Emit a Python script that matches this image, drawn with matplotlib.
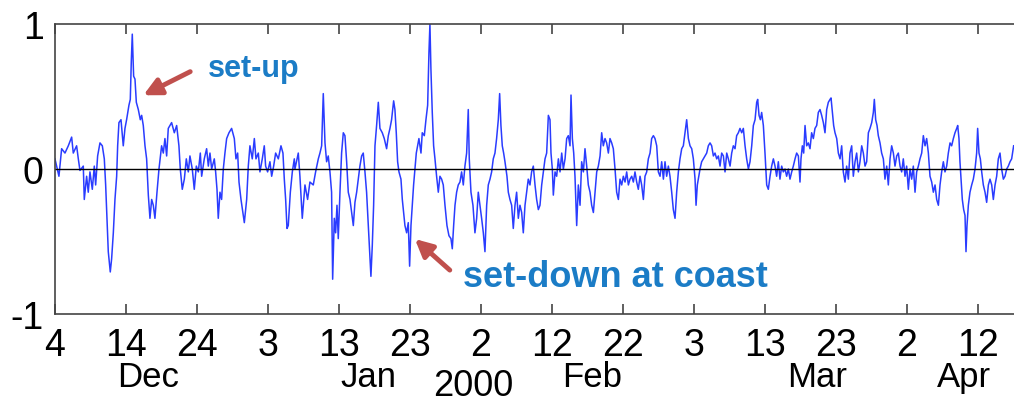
import numpy as np
import matplotlib
matplotlib.use("Agg")
import matplotlib.pyplot as plt

# sea level anomaly (m), days since 4 Dec 1999
days_1 = [0.00, 0.56, 0.94, 1.41, 1.88, 2.35, 2.58, 3.05, 3.29, 3.52, 3.99, 4.13, 4.46, 4.69, 4.93,
          5.26, 5.54, 5.73, 6.01, 6.34, 6.67, 6.95, 7.14, 7.32, 7.51, 7.79, 7.98, 8.22, 8.45, 8.69,
          8.83, 9.01, 9.30, 9.62, 9.86, 10.09, 10.42, 10.61, 10.75, 10.89, 11.08, 11.27, 11.46, 11.74,
          12.02, 12.21, 12.44, 12.68, 12.91, 13.15, 13.38, 13.62, 13.85, 14.08, 14.37, 14.65, 15.02,
          15.26, 15.49, 15.73, 15.96, 16.43, 16.81, 17.14, 17.46, 17.65, 17.93, 18.22, 18.50, 18.78,
          19.01, 19.34, 19.62, 19.91, 20.19, 20.47, 20.66, 21.03, 21.36, 21.60, 21.83, 22.07, 22.44,
          22.63, 22.82, 23.00, 23.24, 23.47, 23.71, 23.94, 24.18, 24.51, 24.88, 25.26, 25.49, 25.73,
          25.92, 26.20, 26.67, 27.00, 27.23, 27.46, 27.79, 28.08, 28.31, 28.64, 28.87, 29.20, 29.48,
          29.67, 29.95, 30.28, 30.52, 30.80, 31.08, 31.46, 31.83, 32.11, 32.30, 32.49, 32.68, 32.86,
          33.15, 33.43, 33.71]
level_1 = [0.07, -0.05, 0.14, 0.11, 0.16, 0.22, 0.11, 0.16, 0.07, -0.01, 0.02, -0.21, -0.05, -0.16, -0.02,
           -0.14, 0.02, -0.11, 0.09, 0.18, 0.16, 0.07, -0.11, -0.34, -0.57, -0.71, -0.62, -0.44, -0.21, -0.05,
           0.16, 0.32, 0.34, 0.16, 0.28, 0.34, 0.44, 0.48, 0.74, 0.93, 0.64, 0.62, 0.46, 0.41,
           0.34, 0.37, 0.30, 0.16, 0.07, -0.18, -0.34, -0.21, -0.25, -0.34, -0.16, 0.00, 0.16,
           0.11, 0.21, 0.09, 0.28, 0.32, 0.25, 0.30, 0.16, 0.00, -0.14, -0.07, 0.07, -0.02,
           0.09, 0.00, -0.14, 0.02, -0.02, 0.11, -0.05, 0.07, 0.14, 0.02, 0.11, 0.00, 0.07,
           -0.02, -0.14, -0.34, -0.16, -0.21, 0.00, 0.11, 0.21, 0.25, 0.28, 0.21, 0.07, 0.11,
           -0.09, -0.21, -0.37, -0.21, 0.02, 0.16, 0.07, 0.21, 0.07, 0.11, -0.02, 0.07, 0.16,
           0.02, -0.02, 0.05, -0.05, 0.02, 0.11, 0.07, 0.16, 0.11, -0.07, -0.21, -0.41, -0.39,
           -0.16, -0.02, 0.07]

days_2 = [33.80, 34.27, 34.50, 34.83, 35.21, 35.58, 35.91, 36.38, 36.71, 37.09, 37.32, 37.56, 37.79,
          38.03, 38.26, 38.49, 38.73, 38.96, 39.11, 39.34, 39.53, 39.72, 39.90, 40.14, 40.37, 40.61,
          40.84, 41.08, 41.31, 41.55, 41.78, 42.02, 42.25, 42.49, 42.72, 42.95, 43.19, 43.42, 43.66,
          43.89, 44.13, 44.36, 44.50, 44.69, 44.88, 45.07, 45.30, 45.54, 45.77, 46.10, 46.38, 46.71,
          46.95, 47.18, 47.41, 47.70, 47.88, 48.07, 48.26, 48.45, 48.73, 48.92, 49.11, 49.29, 49.53,
          49.76, 49.95, 50.14, 50.33, 50.51, 50.70, 50.89, 51.08, 51.26, 51.55, 51.73, 52.02, 52.25,
          52.49, 52.67, 52.81, 52.95, 53.14, 53.33, 53.52, 53.75, 53.99, 54.22, 54.46, 54.69, 54.93,
          55.21, 55.49, 55.77, 55.96, 56.15, 56.34, 56.57, 56.80, 57.04, 57.27, 57.51, 57.74, 57.98,
          58.21, 58.35, 58.59, 58.87, 59.15, 59.39, 59.62, 59.86, 60.09, 60.33, 60.56, 60.80, 61.03,
          61.27, 61.50, 61.73, 61.97, 62.20, 62.44, 62.63, 62.81, 63.00, 63.19, 63.38, 63.66, 63.85,
          64.08, 64.32, 64.55, 64.79, 65.02, 65.26, 65.49, 65.73, 65.96, 66.20, 66.43, 66.66, 66.90,
          67.13, 67.37]
level_2 = [0.00, 0.11, -0.05, -0.34, -0.11, -0.21, -0.09, -0.11, -0.02, 0.07, 0.11, 0.16, 0.52,
           0.18, 0.05, 0.09, -0.02, -0.16, -0.76, -0.34, -0.44, -0.25, -0.48, -0.16, 0.11, 0.25,
           0.23, 0.05, -0.16, -0.21, -0.30, -0.39, -0.23, -0.16, -0.07, 0.02, 0.09, 0.11, -0.02,
           -0.16, -0.39, -0.62, -0.74, -0.53, -0.25, 0.16, 0.30, 0.46, 0.28, 0.25, 0.21, 0.14,
           0.23, 0.28, 0.34, 0.47, 0.41, 0.25, 0.05, -0.02, -0.07, -0.21, -0.30, -0.39, -0.44,
           -0.37, -0.67, -0.39, -0.25, -0.11, 0.00, 0.11, 0.16, 0.21, 0.11, 0.25, 0.23, 0.34,
           0.44, 0.80, 1.00, 0.69, 0.39, 0.16, 0.07, -0.05, -0.16, -0.05, -0.07, -0.11, -0.25,
           -0.39, -0.46, -0.48, -0.55, -0.39, -0.25, -0.16, -0.11, -0.09, -0.02, -0.11, 0.02, 0.11,
           0.41, 0.07, -0.16, -0.25, -0.44, -0.34, -0.16, -0.25, -0.34, -0.44, -0.57, -0.25, -0.11,
           -0.07, -0.02, 0.07, 0.11, 0.21, 0.34, 0.52, 0.30, 0.16, 0.11, 0.05, -0.05, -0.16,
           -0.21, -0.25, -0.41, -0.25, -0.16, -0.34, -0.25, -0.30, -0.44, -0.25, -0.16, -0.07, -0.11,
           -0.02, 0.02]

days_3 = [67.61, 67.84, 68.08, 68.31, 68.55, 68.78, 69.02, 69.25, 69.49, 69.72, 69.86, 70.05, 70.19,
          70.43, 70.66, 70.90, 71.13, 71.37, 71.60, 71.84, 72.07, 72.30, 72.54, 72.68, 72.87, 73.06,
          73.24, 73.48, 73.71, 73.95, 74.18, 74.42, 74.65, 74.89, 75.12, 75.36, 75.59, 75.83, 76.06,
          76.30, 76.53, 76.77, 77.00, 77.23, 77.47, 77.70, 77.94, 78.17, 78.41, 78.64, 78.88, 79.11,
          79.35, 79.58, 79.82, 80.05, 80.29, 80.52, 80.76, 80.99, 81.23, 81.46, 81.69, 81.93, 82.16,
          82.40, 82.63, 82.87, 83.10, 83.34, 83.57, 83.81, 84.04, 84.28, 84.51, 84.75, 84.98, 85.22,
          85.45, 85.69, 85.92, 86.15, 86.39, 86.62, 86.86, 87.09, 87.33, 87.56, 87.80, 88.03, 88.27,
          88.50, 88.74, 88.97, 89.21, 89.44, 89.68, 89.91, 90.15, 90.29, 90.47, 90.61, 90.85, 91.08,
          91.32, 91.55, 91.79, 92.02, 92.26, 92.49, 92.73, 92.96, 93.20, 93.43, 93.67, 93.90, 94.14,
          94.37, 94.61, 94.84, 95.08, 95.31, 95.54, 95.78, 96.01, 96.25, 96.48, 96.72, 96.95, 97.19,
          97.42, 97.66, 97.89, 98.13, 98.36, 98.60, 98.83, 98.97, 99.16, 99.35, 99.53, 99.77, 100.00,
          100.24, 100.47, 100.71, 100.94, 101.18]
level_3 = [-0.11, -0.21, -0.28, -0.25, -0.11, -0.02, 0.07, 0.11, 0.37, 0.34, 0.11, 0.00, -0.18,
           -0.02, -0.05, 0.07, -0.02, 0.11, 0.00, 0.07, 0.21, 0.23, 0.16, 0.51, 0.21, 0.11,
           -0.05, -0.39, -0.11, -0.25, 0.05, -0.02, 0.14, 0.02, -0.11, -0.16, -0.25, -0.30, -0.16,
           -0.02, 0.02, 0.09, 0.25, 0.16, 0.21, 0.18, 0.11, 0.21, 0.18, 0.14, 0.00, -0.16,
           -0.21, -0.07, -0.11, -0.05, -0.09, -0.02, -0.11, -0.07, -0.05, -0.09, -0.02, -0.09, -0.14,
           -0.05, -0.11, -0.21, -0.05, -0.02, 0.07, 0.11, 0.21, 0.23, 0.21, 0.16, -0.02, -0.05,
           0.05, -0.07, 0.05, -0.05, 0.02, -0.05, -0.16, -0.28, -0.34, -0.16, -0.02, 0.07, 0.14,
           0.16, 0.25, 0.34, 0.21, 0.16, 0.14, 0.07, -0.07, -0.25, -0.11, -0.07, 0.00, 0.05,
           0.07, 0.09, 0.11, 0.16, 0.18, 0.16, 0.09, 0.11, 0.07, 0.09, 0.02, 0.11, 0.09,
           -0.02, 0.11, 0.07, 0.02, 0.11, 0.16, 0.14, 0.23, 0.25, 0.28, 0.25, 0.28, 0.16,
           0.07, 0.00, 0.05, 0.16, 0.30, 0.34, 0.46, 0.48, 0.37, 0.34, 0.39, 0.30, 0.11,
           -0.11, -0.14, -0.05, 0.02, 0.07]

days_4 = [101.41, 101.64, 101.88, 102.11, 102.35, 102.58, 102.82, 103.05, 103.29, 103.52, 103.76,
          103.99, 104.23, 104.46, 104.70, 104.93, 105.07, 105.26, 105.45, 105.64, 105.87, 106.10,
          106.34, 106.57, 106.81, 107.04, 107.28, 107.51, 107.75, 107.98, 108.22, 108.45, 108.69,
          108.92, 109.16, 109.30, 109.49, 109.67, 109.86, 110.10, 110.33, 110.57, 110.80, 111.03,
          111.27, 111.50, 111.74, 111.97, 112.21, 112.44, 112.68, 112.91, 113.15, 113.38, 113.62,
          113.85, 114.09, 114.32, 114.56, 114.79, 115.03, 115.26, 115.40, 115.59, 115.78, 115.96,
          116.20, 116.43, 116.67, 116.90, 117.14, 117.37, 117.61, 117.84, 118.08, 118.31, 118.55,
          118.78, 119.02, 119.25, 119.48, 119.72, 119.95, 120.19, 120.42, 120.66, 120.89, 121.13,
          121.36, 121.60, 121.83, 122.07, 122.30, 122.54, 122.77, 123.01, 123.24, 123.48, 123.71,
          123.95, 124.18, 124.42, 124.65, 124.88, 125.12, 125.35, 125.59, 125.82, 126.06, 126.29,
          126.53, 126.76, 127.00, 127.14, 127.32, 127.46, 127.61, 127.79, 127.98, 128.17, 128.31,
          128.45, 128.64, 128.87, 129.11, 129.34, 129.58, 129.81, 129.95, 130.14, 130.33, 130.52,
          130.75, 130.99, 131.22, 131.46, 131.69, 131.93, 132.16, 132.40, 132.63, 132.86, 133.10,
          133.33, 133.57, 133.80, 134.04, 134.27, 134.51, 134.74, 135.02]
level_4 = [0.02, -0.05, 0.05, -0.07, 0.02, -0.02, 0.00, -0.05, 0.00, -0.07, -0.02,
           0.02, 0.07, 0.11, 0.09, -0.09, 0.07, 0.16, 0.11, 0.30, 0.16, 0.18,
           0.14, 0.25, 0.21, 0.28, 0.30, 0.39, 0.41, 0.37, 0.32, 0.25, 0.41,
           0.46, 0.48, 0.49, 0.39, 0.30, 0.25, 0.21, 0.11, 0.07, 0.16, -0.02,
           -0.09, 0.02, -0.07, 0.11, 0.16, -0.05, 0.05, 0.11, -0.02, 0.05, 0.16,
           0.11, 0.02, 0.05, 0.25, 0.28, 0.32, 0.39, 0.48, 0.34, 0.30, 0.23,
           0.18, 0.11, 0.07, -0.07, 0.02, -0.11, 0.07, 0.16, 0.11, 0.02, 0.09,
           0.11, 0.02, -0.02, 0.07, -0.05, 0.02, -0.14, 0.00, -0.07, 0.02, -0.16,
           -0.02, 0.02, 0.07, 0.11, 0.23, 0.16, 0.21, 0.11, -0.05, -0.09, -0.16,
           -0.11, -0.21, -0.25, -0.11, -0.02, 0.05, -0.02, 0.02, 0.11, 0.18, 0.16,
           0.21, 0.25, 0.28, 0.30, 0.21, 0.05, -0.07, -0.21, -0.28, -0.32, -0.57,
           -0.39, -0.25, -0.16, -0.11, -0.07, 0.00, 0.11, 0.28, 0.11, 0.07, -0.02,
           -0.11, -0.16, -0.23, -0.11, -0.07, -0.11, -0.21, -0.11, -0.05, 0.07, 0.11,
           0.00, -0.07, -0.05, 0.00, 0.02, 0.05, 0.07, 0.16]

tick_days = [0, 10, 20, 30, 40, 50, 60, 70, 80, 90, 100, 110, 120, 130]
tick_labels = ['4', '14', '24', '3', '13', '23', '2', '12', '22', '3', '13', '23', '2', '12']
month_days = [13.1, 44.1, 75.6, 107.3, 128.0]
month_names = ['Dec', 'Jan', 'Feb', 'Mar', 'Apr']

days = np.concatenate([days_1, days_2, days_3, days_4])
level = np.concatenate([level_1, level_2, level_3, level_4])

plt.rcParams['font.family'] = ['Liberation Sans', 'DejaVu Sans']

fig = plt.figure(figsize=(10.14, 4.02), dpi=100)
ax = fig.add_axes([0.0542, 0.2164, 0.9458, 0.7214])

ax.plot(days, level, color='#2a3cff', linewidth=1.1)
ax.axhline(0, color='black', linewidth=1.0)

ax.set_xlim(0, 135.07)
ax.set_ylim(-1, 1)
ax.set_yticks([-1, 0, 1])
ax.set_yticklabels(['-1', '0', '1'])
ax.set_xticks(tick_days)
ax.set_xticklabels(tick_labels)
ax.tick_params(axis='x', direction='in', length=7, width=1.2, color='#444444',
               labelsize=27, pad=9, top=True)
ax.tick_params(axis='y', direction='in', length=0, labelsize=27, pad=8)
for side in ['left', 'top', 'bottom']:
    ax.spines[side].set_color('#444444')
    ax.spines[side].set_linewidth(1.2)
ax.spines['right'].set_visible(False)

# month row under the day numbers
trans = ax.get_xaxis_transform()
for d, name in zip(month_days, month_names):
    ax.text(d, -0.215, name, transform=trans, ha='center', va='center', fontsize=25)
ax.text(58.9, -0.245, '2000', transform=trans, ha='center', va='center', fontsize=26)

# annotations
arrow_color = '#c0504d'
text_color = '#1b7cc6'
ax.annotate('', xy=(12.1, 0.50), xytext=(19.4, 0.68),
            arrowprops=dict(arrowstyle='-|>', color=arrow_color, lw=3.5, mutation_scale=26))
ax.text(21.5, 0.64, 'set-up', color=text_color, fontsize=22, fontweight='bold',
        ha='left', va='baseline')
ax.annotate('', xy=(50.4, -0.47), xytext=(55.9, -0.71),
            arrowprops=dict(arrowstyle='-|>', color=arrow_color, lw=3.5, mutation_scale=26))
ax.text(57.5, -0.81, 'set-down at coast', color=text_color, fontsize=26, fontweight='bold',
        ha='left', va='baseline')

fig.savefig('out.png', dpi=100)
